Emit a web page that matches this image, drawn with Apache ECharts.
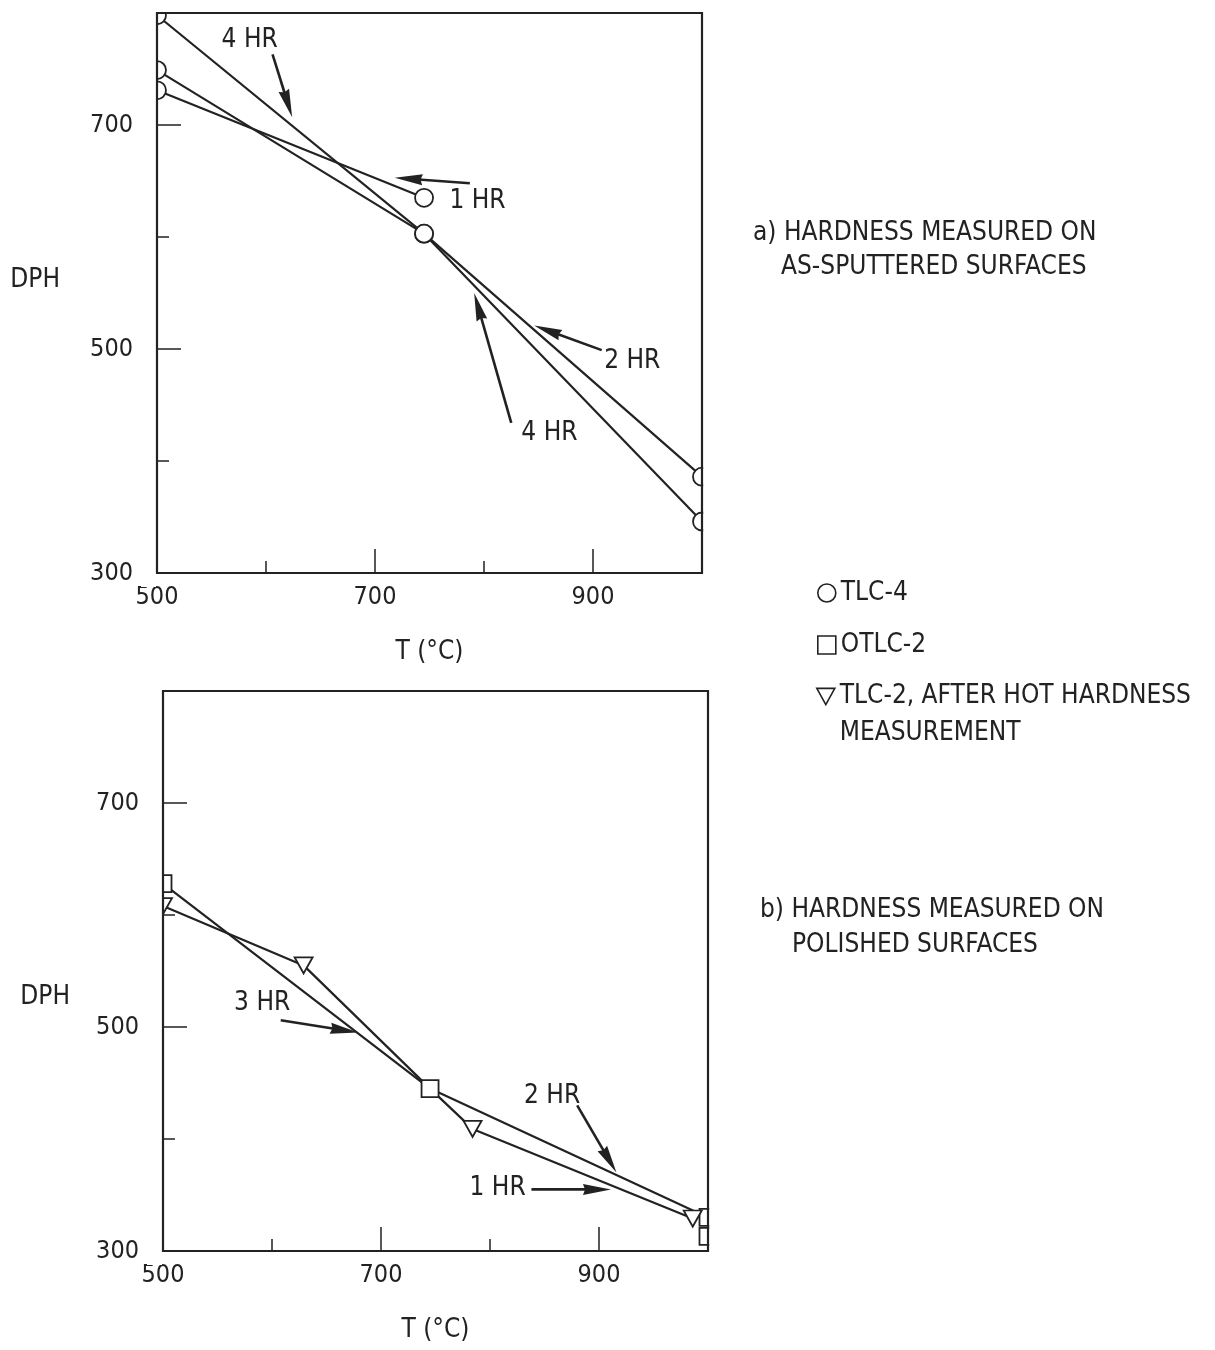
<!DOCTYPE html>
<html><head><meta charset="utf-8">
<script src="https://cdn.jsdelivr.net/npm/echarts@6/dist/echarts.min.js"></script>
<style>html,body{margin:0;padding:0;background:#fff}#c{width:1215px;height:1350px}</style>
</head><body><div id="c"></div>
<script>
// ---------------- data ----------------
const xTickLabels = [500, 700, 900];
const yTickLabels = [300, 500, 700];
const xMajorTicks = [700, 900];
const yMajorTicks = [500, 700];

// (a) as-sputtered surfaces, TLC-4
const tlc4_4hr = [[500, 798], [745, 603], [1000, 346]];
const tlc4_2hr = [[500, 749], [745, 603], [1000, 386]];
const tlc4_1hr = [[500, 731], [745, 635]];

// (b) polished surfaces
const otlc2 = [[500, 628], [745, 445], [1000, 330]];
const otlc2Extra = [[1000, 313]];
const tlc2Hot = [[500, 608], [629, 555], [745, 445], [784, 409], [986, 329]];

// annotations (data units)
const notesA = [
  { text: '4 HR', at: [585, 776], from: [606, 763], to: [624, 707] },
  { text: '1 HR', at: [794, 632], from: [787, 648], to: [718, 653] },
  { text: '2 HR', at: [936, 489], from: [908, 499], to: [846, 521] },
  { text: '4 HR', at: [860, 425], from: [825, 434], to: [791, 550] }
];
const notesB = [
  { text: '3 HR', at: [591, 521], from: [608, 506], to: [679, 495] },
  { text: '2 HR', at: [857, 438], from: [880, 430], to: [916, 370] },
  { text: '1 HR', at: [807, 356], from: [838, 355], to: [911, 355] }
];

const NAME_A = 'TLC-4';
const NAME_B = 'OTLC-2';
const NAME_C = 'TLC-2, AFTER HOT HARDNESS\nMEASUREMENT';

// ---------------- styles / layout ----------------
const INK = '#222';
const FONT = "'Liberation Sans Narrow', 'DejaVu Sans Condensed', 'Arial Narrow', sans-serif";
const FS = 26;
const TRI_DOWN = 'path://M0,0L20,0L10,18Z';
const GA = { left: 157, top: 13, width: 545, height: 560 };
const GB = { left: 163, top: 691, width: 545, height: 560 };

function axesFor(dir, gridIndex, min, max, labels, majors, name, nameGap, nameExtra) {
  const minor = {
    type: 'value', gridIndex, min, max, interval: 100,
    position: dir === 'x' ? 'bottom' : 'left',
    axisLine: { show: true, onZero: false, lineStyle: { color: INK, width: 2 } },
    axisTick: { show: true, inside: true, length: 12, lineStyle: { color: INK, width: 1.5 } },
    axisLabel: { show: false }, splitLine: { show: false }
  };
  const major = {
    type: 'value', gridIndex, min, max, interval: 100,
    position: dir === 'x' ? 'bottom' : 'left',
    axisLine: { show: false, onZero: false },
    axisTick: { show: true, inside: true, length: 24, customValues: majors, lineStyle: { color: INK, width: 1.5 } },
    axisLabel: { show: true, customValues: labels, color: INK, fontSize: 25, fontFamily: FONT, margin: dir === 'x' ? 12 : 24 },
    splitLine: { show: false },
    name, nameLocation: 'middle', nameGap, nameRotate: 0,
    nameTextStyle: Object.assign({ color: INK, fontSize: FS, fontFamily: FONT }, nameExtra || {})
  };
  return [minor, major];
}

function lineSeries(name, data, xi, yi, extra) {
  return Object.assign({
    type: 'line', name, data, xAxisIndex: xi, yAxisIndex: yi,
    symbol: 'none', lineStyle: { color: INK, width: 2.2 }, z: 2,
    animation: false, silent: true
  }, extra || {});
}
function markerSeries(name, data, xi, yi, symbol, size, rotate) {
  return {
    type: 'scatter', name, data, xAxisIndex: xi, yAxisIndex: yi,
    symbol, symbolSize: size, symbolRotate: rotate || 0,
    itemStyle: { color: '#fff', borderColor: INK, borderWidth: 1.8, opacity: 1 },
    z: 5, animation: false, silent: true
  };
}
function arrowItem(params, api) {
  const p1 = api.coord([api.value(0), api.value(1)]);
  const p2 = api.coord([api.value(2), api.value(3)]);
  const dx = p2[0] - p1[0], dy = p2[1] - p1[1];
  const len = Math.hypot(dx, dy) || 1;
  const ux = dx / len, uy = dy / len;
  const HL = 28, HW = 5.5;
  const bx = p2[0] - ux * HL, by = p2[1] - uy * HL;
  return {
    type: 'group', children: [
      { type: 'line', shape: { x1: p1[0], y1: p1[1], x2: bx + ux * 4, y2: by + uy * 4 }, style: { stroke: INK, lineWidth: 2.6 } },
      { type: 'polygon', shape: { points: [[p2[0], p2[1]], [bx - uy * HW, by + ux * HW], [bx + ux * 2, by + uy * 2], [bx + uy * HW, by - ux * HW]] }, style: { fill: INK } }
    ]
  };
}
function arrowSeries(notes, xi, yi) {
  return {
    type: 'custom', xAxisIndex: xi, yAxisIndex: yi, z: 6, silent: true, animation: false,
    renderItem: arrowItem,
    data: notes.map(n => [n.from[0], n.from[1], n.to[0], n.to[1]]),
    markPoint: {
      silent: true, animation: false, symbol: 'rect', symbolSize: 1,
      itemStyle: { color: 'rgba(0,0,0,0)' },
      label: { show: true, position: 'inside', formatter: '{b}', color: INK, fontSize: FS, fontFamily: FONT },
      data: notes.map(n => ({ name: n.text, coord: n.at }))
    }
  };
}
// white strips just outside each frame so markers sitting on the frame read as cut by it,
// then the frame itself redrawn on top
function frameOverlay(g) {
  const s = { fill: '#fff' };
  return [
    { type: 'rect', z: 100, silent: true, shape: { x: g.left - 16, y: g.top - 14, width: 15, height: g.height + 28 }, style: s },
    { type: 'rect', z: 100, silent: true, shape: { x: g.left + g.width + 1.2, y: g.top - 14, width: 16, height: g.height + 28 }, style: s },
    { type: 'rect', z: 100, silent: true, shape: { x: g.left - 16, y: g.top - 14, width: g.width + 32, height: 13 }, style: s },
    { type: 'rect', z: 101, silent: true, shape: { x: g.left, y: g.top, width: g.width, height: g.height }, style: { fill: 'none', stroke: INK, lineWidth: 2.2 } }
  ];
}

const [xa0, xa1] = axesFor('x', 0, 500, 1000, xTickLabels, xMajorTicks, 'T (°C)', 66);
const [xb0, xb1] = axesFor('x', 1, 500, 1000, xTickLabels, xMajorTicks, 'T (°C)', 66);
const [ya0, ya1] = axesFor('y', 0, 300, 800, yTickLabels, yMajorTicks, 'DPH', 97, { verticalAlign: 'bottom', lineHeight: 26 });
const [yb0, yb1] = axesFor('y', 1, 300, 800, yTickLabels, yMajorTicks, 'DPH', 93, { verticalAlign: 'top', lineHeight: 52 });

const titleStyle = { color: INK, fontSize: FS, fontWeight: 'normal', fontFamily: FONT };
const legendCommon = {
  orient: 'horizontal', padding: 0, itemWidth: 18, itemHeight: 18, selectedMode: false,
  itemStyle: { color: '#fff', borderColor: INK, borderWidth: 1.6 },
  textStyle: { color: INK, fontSize: FS, fontFamily: FONT, lineHeight: 30 }
};

const option = {
  backgroundColor: '#fff',
  animation: false,
  grid: [
    Object.assign({ show: true, borderColor: INK, borderWidth: 2, containLabel: false }, GA),
    Object.assign({ show: true, borderColor: INK, borderWidth: 2, containLabel: false }, GB)
  ],
  xAxis: [xa0, xa1, xb0, xb1],
  yAxis: [ya0, ya1, yb0, yb1],
  title: [
    { text: 'a) HARDNESS MEASURED ON', left: 753, top: 220, padding: 0, textStyle: titleStyle },
    { text: 'AS-SPUTTERED SURFACES', left: 781, top: 254, padding: 0, textStyle: titleStyle },
    { text: 'b) HARDNESS MEASURED ON', left: 760, top: 897, padding: 0, textStyle: titleStyle },
    { text: 'POLISHED SURFACES', left: 792, top: 932, padding: 0, textStyle: titleStyle }
  ],
  legend: [
    Object.assign({}, legendCommon, { left: 817, top: 578, data: [{ name: NAME_A, icon: 'circle' }] }),
    Object.assign({}, legendCommon, { left: 817, top: 630, data: [{ name: NAME_B, icon: 'rect' }] }),
    Object.assign({}, legendCommon, {
      left: 816, top: 641, data: [{ name: NAME_C, icon: TRI_DOWN }],
      formatter: n => '\n' + n,
      textStyle: { color: INK, fontSize: FS, fontFamily: FONT, lineHeight: 37 }
    })
  ],
  graphic: frameOverlay(GA).concat(frameOverlay(GB)),
  series: [
    lineSeries('TLC-4 4 HR', tlc4_4hr, 0, 0),
    lineSeries('TLC-4 2 HR', tlc4_2hr, 0, 0),
    lineSeries('TLC-4 1 HR', tlc4_1hr, 0, 0),
    markerSeries(NAME_A, tlc4_4hr.concat(tlc4_2hr, tlc4_1hr), 0, 0, 'circle', 18),
    arrowSeries(notesA, 0, 0),

    lineSeries('OTLC-2 3/2 HR', otlc2, 2, 2),
    lineSeries('TLC-2 hot', tlc2Hot, 2, 2),
    markerSeries(NAME_B, otlc2.concat(otlc2Extra), 2, 2, 'rect', 17),
    markerSeries(NAME_C, tlc2Hot.filter(p => !otlc2.some(q => q[0] === p[0] && q[1] === p[1])), 2, 2, 'triangle', [18, 16], 180),
    arrowSeries(notesB, 2, 2)
  ]
};

const chart = echarts.init(document.getElementById('c'), null, { renderer: 'canvas' });
chart.setOption(option);
</script>
</body></html>
